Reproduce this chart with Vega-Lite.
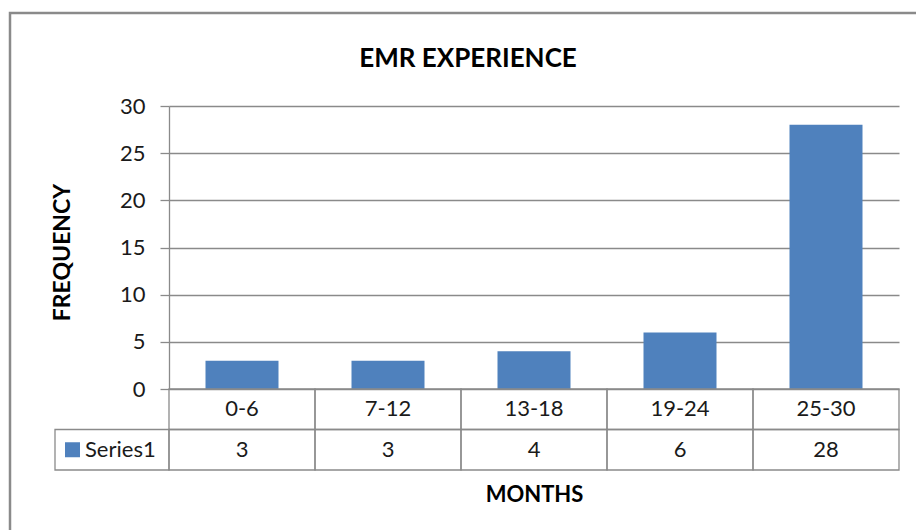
{
  "$schema": "https://vega.github.io/schema/vega-lite/v6.json",
  "width": 908,
  "height": 519,
  "autosize": {"type": "none"},
  "padding": {"left": 10, "top": 13, "right": -2, "bottom": -2},
  "background": "white",
  "view": {"stroke": "#8a8a8a", "strokeWidth": 2.5, "fill": "white"},
  "title": {
    "text": "EMR EXPERIENCE",
    "font": "Lato",
    "fontSize": 26,
    "fontWeight": "bold",
    "color": "#000000",
    "frame": "group",
    "anchor": "middle",
    "offset": -59,
    "dx": 4
  },
  "config": {"font": "Lato"},
  "data": {
    "values": [
      {"range": "0-6", "frequency": 3},
      {"range": "7-12", "frequency": 3},
      {"range": "13-18", "frequency": 4},
      {"range": "19-24", "frequency": 6},
      {"range": "25-30", "frequency": 28}
    ]
  },
  "layer": [
    {
      "mark": {"type": "bar", "width": {"band": 0.5}, "color": "#4f81bd"},
      "encoding": {
        "x": {
          "field": "range", "type": "nominal", "sort": null,
          "scale": {"domain": ["0-6", "7-12", "13-18", "19-24", "25-30"], "range": [159, 889], "paddingInner": 0, "paddingOuter": 0},
          "axis": {"orient": "bottom", "offset": -62, "labels": false, "ticks": false, "domain": false, "grid": false,
                   "title": "MONTHS", "titleFont": "Lato", "titleFontSize": 22, "titleFontWeight": "bold", "titleColor": "#000000", "titlePadding": 14}
        },
        "y": {
          "field": "frequency", "type": "quantitative",
          "scale": {"domain": [0, 30], "range": [376, 93], "nice": false},
          "axis": {"orient": "left", "offset": -159, "values": [0, 5, 10, 15, 20, 25, 30],
                   "tickSize": 9, "tickColor": "#8a8a8a", "tickWidth": 1.3,
                   "domainColor": "#8a8a8a", "domainWidth": 1.3,
                   "grid": true, "gridColor": "#8a8a8a", "gridWidth": 1.3,
                   "labelPadding": 15, "labelFont": "Lato", "labelFontSize": 22, "labelColor": "#1a1a1a",
                   "title": "FREQUENCY", "titleFont": "Lato", "titleFontSize": 23, "titleFontWeight": "bold", "titleColor": "#000000",
                   "titlePadding": 45, "titleY": 239}
        }
      }
    },
    {
      "mark": {"type": "rect", "fill": "transparent", "stroke": "#8a8a8a", "strokeWidth": 1.3},
      "encoding": {
        "x": {"field": "range", "type": "nominal", "sort": null,
              "scale": {"domain": ["0-6", "7-12", "13-18", "19-24", "25-30"], "range": [159, 889], "paddingInner": 0, "paddingOuter": 0}, "axis": null},
        "y": {"datum": "cat", "type": "nominal", "scale": {"domain": ["cat", "val"], "range": [376, 457], "paddingInner": 0, "paddingOuter": 0}, "axis": null}
      }
    },
    {
      "mark": {"type": "rect", "fill": "transparent", "stroke": "#8a8a8a", "strokeWidth": 1.3},
      "encoding": {
        "x": {"field": "range", "type": "nominal", "sort": null,
              "scale": {"domain": ["0-6", "7-12", "13-18", "19-24", "25-30"], "range": [159, 889], "paddingInner": 0, "paddingOuter": 0}, "axis": null},
        "y": {"datum": "val", "type": "nominal", "scale": {"domain": ["cat", "val"], "range": [376, 457], "paddingInner": 0, "paddingOuter": 0}, "axis": null}
      }
    },
    {
      "mark": {"type": "text", "fontSize": 22, "font": "Lato", "color": "#1a1a1a", "baseline": "middle", "align": "center"},
      "encoding": {
        "x": {"field": "range", "type": "nominal", "sort": null,
              "scale": {"domain": ["0-6", "7-12", "13-18", "19-24", "25-30"], "range": [159, 889], "paddingInner": 0, "paddingOuter": 0}, "axis": null},
        "y": {"datum": "cat", "type": "nominal", "scale": {"domain": ["cat", "val"], "range": [376, 457], "paddingInner": 0, "paddingOuter": 0}, "axis": null},
        "text": {"field": "range", "type": "nominal"}
      }
    },
    {
      "mark": {"type": "text", "fontSize": 22, "font": "Lato", "color": "#1a1a1a", "baseline": "middle", "align": "center"},
      "encoding": {
        "x": {"field": "range", "type": "nominal", "sort": null,
              "scale": {"domain": ["0-6", "7-12", "13-18", "19-24", "25-30"], "range": [159, 889], "paddingInner": 0, "paddingOuter": 0}, "axis": null},
        "y": {"datum": "val", "type": "nominal", "scale": {"domain": ["cat", "val"], "range": [376, 457], "paddingInner": 0, "paddingOuter": 0}, "axis": null},
        "text": {"field": "frequency", "type": "quantitative"}
      }
    },
    {
      "data": {"values": [{"series": "Series1"}]},
      "mark": {"type": "rect", "fill": "transparent", "stroke": "#8a8a8a", "strokeWidth": 1.3},
      "encoding": {
        "x": {"field": "series", "type": "nominal", "scale": {"domain": ["Series1"], "range": [45, 159], "paddingInner": 0, "paddingOuter": 0}, "axis": null},
        "y": {"datum": "val", "type": "nominal", "scale": {"domain": ["cat", "val"], "range": [376, 457], "paddingInner": 0, "paddingOuter": 0}, "axis": null}
      }
    },
    {
      "data": {"values": [{"series": "Series1"}]},
      "mark": {"type": "point", "shape": "square", "size": 225, "filled": true, "color": "#4f81bd", "opacity": 1, "xOffset": -39.5},
      "encoding": {
        "x": {"field": "series", "type": "nominal", "scale": {"domain": ["Series1"], "range": [45, 159], "paddingInner": 0, "paddingOuter": 0}, "axis": null},
        "y": {"datum": "val", "type": "nominal", "scale": {"domain": ["cat", "val"], "range": [376, 457], "paddingInner": 0, "paddingOuter": 0}, "axis": null}
      }
    },
    {
      "data": {"values": [{"series": "Series1"}]},
      "mark": {"type": "text", "fontSize": 22, "font": "Lato", "color": "#1a1a1a", "baseline": "middle", "align": "left", "dx": -27},
      "encoding": {
        "x": {"field": "series", "type": "nominal", "scale": {"domain": ["Series1"], "range": [45, 159], "paddingInner": 0, "paddingOuter": 0}, "axis": null},
        "y": {"datum": "val", "type": "nominal", "scale": {"domain": ["cat", "val"], "range": [376, 457], "paddingInner": 0, "paddingOuter": 0}, "axis": null},
        "text": {"field": "series", "type": "nominal"}
      }
    }
  ],
  "resolve": {"scale": {"x": "independent", "y": "independent"}}
}
